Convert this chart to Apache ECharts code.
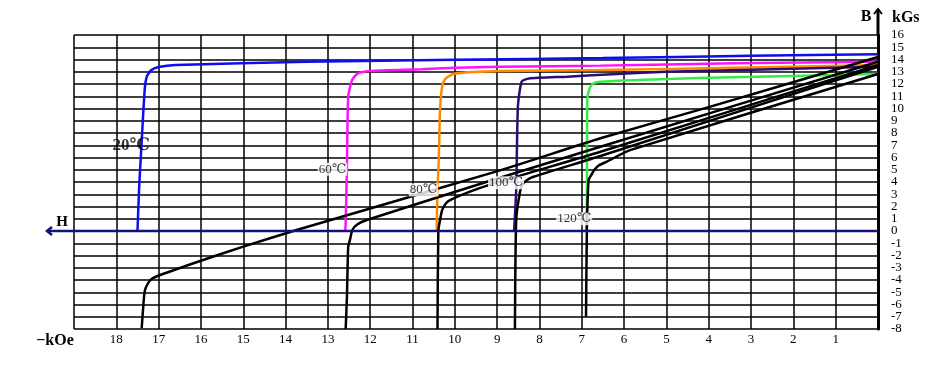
<!DOCTYPE html>
<html lang="zh">
<head>
<meta charset="UTF-8" />
<title>退磁曲线</title>
<script src="https://cdn.jsdelivr.net/npm/echarts@6/dist/echarts.min.js"></script>
</head>
<body style="margin:0;background:#fff">
<div id="main" style="width:950px;height:378px"></div>
<script>
// 彩色曲线: 内禀 J 曲线, [H(kOe), B(kGs)]
var j20 = [[0, 14.42], [3, 14.3], [6.5, 14.12], [10, 13.98], [13.5, 13.82], [16.6, 13.55], [17.0, 13.38], [17.18, 13.12], [17.28, 12.6], [17.33, 11.5], [17.42, 6.1], [17.46, 3.6], [17.5, 0]];
var j60 = [[0, 13.82], [3.4, 13.69], [6.56, 13.5], [8.93, 13.41], [10, 13.33], [10.8, 13.2], [12.0, 13.06], [12.3, 12.85], [12.43, 12.3], [12.52, 10.96], [12.55, 5.25], [12.58, 0.63], [12.59, 0]];
var j80 = [[0, 13.55], [3.42, 13.33], [6.56, 13.14], [8.93, 13.06], [10.0, 12.85], [10.2, 12.5], [10.29, 12.0], [10.35, 9.88], [10.38, 5.8], [10.41, 3.35], [10.43, 0]];
var j100 = [[0, 13.41], [2.5, 13.2], [5, 13.0], [6.17, 12.82], [7.35, 12.6], [8.25, 12.45], [8.42, 12.2], [8.51, 10.15], [8.55, 3.35], [8.6, 0]];
var j120 = [[0, 12.82], [3.41, 12.55], [5, 12.41], [6.56, 12.19], [6.74, 12.02], [6.82, 11.6], [6.87, 10.69], [6.88, 2.53], [6.9, 0]];

// 黑色曲线: B 曲线
var b20 = [[0, 14.2], [3.96, 10.15], [6.56, 7.57], [8.93, 4.95], [13.74, 0.08], [15.0, -1.28], [16.02, -2.45], [16.96, -3.59], [17.18, -3.95], [17.3, -4.6], [17.34, -5.2], [17.4, -7.94]];
var b60 = [[0, 13.82], [6.56, 6.88], [9.24, 4.02], [12.08, 0.9], [12.3, 0.55], [12.42, 0.1], [12.48, -0.73], [12.52, -1.28], [12.55, -5.36], [12.58, -8]];
var b80 = [[0, 13.55], [6.56, 6.47], [9.24, 3.7], [10.03, 2.67], [10.2, 2.3], [10.3, 1.7], [10.35, 0.9], [10.39, 0], [10.41, -8]];
var b100 = [[0, 13.41], [6.56, 6.12], [8.14, 4.43], [8.3, 4.15], [8.4, 3.8], [8.46, 3.2], [8.55, 0.9], [8.58, -8]];
var b120 = [[0, 12.82], [5.86, 6.6], [6.41, 5.66], [6.6, 5.35], [6.7, 5.0], [6.78, 4.55], [6.84, 4.16], [6.88, 0], [6.9, -7]];

var tempNames = ['20℃', '60℃', '80℃', '100℃', '120℃'];
var labelAnchors = [[17.65, 6.95], [12.89, 5.04], [10.74, 3.35], [8.79, 3.94], [7.18, 1.0]];
var bMin = -8, bMax = 16;

var serif = "'Liberation Serif', 'DejaVu Serif', 'Noto Sans CJK SC', serif";
var myChart = echarts.init(document.getElementById('main'));

function curve(name, data, color) {
  return {
    name: name,
    type: 'line',
    data: data,
    showSymbol: false,
    smooth: 0.2,
    lineStyle: { color: color, width: 2.5 },
    z: 3
  };
}

// 温度标签, 20℃ 加粗放大
var labelData = labelAnchors.map(function (p, i) {
  var item = { value: [p[0], p[1], tempNames[i]] };
  if (i === 0) item.label = { fontSize: 17, fontWeight: 'bold', backgroundColor: 'transparent' };
  return item;
});

var yLabelStyle = { margin: 13, color: '#000', fontSize: 13, fontFamily: serif };

var option = {
  animation: false,
  grid: { left: 74, right: 72, top: 35, bottom: 49 },
  xAxis: {
    type: 'value', min: 0, max: 19, interval: 1, inverse: true,
    position: 'bottom',
    axisLine: { show: false },
    axisTick: { show: false },
    splitLine: { show: true, lineStyle: { color: '#000', width: 1.5 } },
    axisLabel: {
      margin: 4, color: '#000', fontSize: 13, fontFamily: serif,
      formatter: function (v) { return (v === 0 || v === 19) ? '' : v; }
    }
  },
  yAxis: [
    {
      // 主轴: 中间的刻度标签
      type: 'value', min: bMin, max: bMax, interval: 1,
      position: 'right',
      axisLine: { show: true, lineStyle: { color: '#000', width: 3 } },
      axisTick: { show: false },
      splitLine: { show: true, lineStyle: { color: '#000', width: 1.5 } },
      axisLabel: Object.assign({ showMinLabel: false, showMaxLabel: false }, yLabelStyle)
    },
    {
      // 辅助轴: 只显示两端的 16 与 -8
      type: 'value', min: bMin, max: bMax, interval: 1,
      position: 'right',
      axisLine: { show: false },
      axisTick: { show: false },
      splitLine: { show: false },
      axisLabel: Object.assign({
        showMinLabel: true, showMaxLabel: true,
        formatter: function (v) { return (v === bMin || v === bMax) ? v : ''; }
      }, yLabelStyle)
    }
  ],
  series: [
    curve('20℃ J', j20, '#0d0df2'),
    curve('60℃ J', j60, '#ff10ff'),
    curve('80℃ J', j80, '#ff8a00'),
    curve('100℃ J', j100, '#2c0c72'),
    curve('120℃ J', j120, '#35ec45'),
    curve('20℃ B', b20, '#000'),
    curve('60℃ B', b60, '#000'),
    curve('80℃ B', b80, '#000'),
    curve('100℃ B', b100, '#000'),
    curve('120℃ B', b120, '#000'),
    {
      name: 'labels',
      type: 'scatter',
      symbolSize: 0,
      data: labelData,
      z: 5,
      label: {
        show: true,
        position: 'inside',
        color: '#000',
        fontFamily: serif,
        fontSize: 13,
        backgroundColor: '#fff',
        padding: [0, 1],
        formatter: function (p) { return p.value[2]; }
      }
    }
  ]
};

myChart.setOption(option);

// H 轴、B 轴箭头与名称
var o = myChart.convertToPixel({ xAxisIndex: 0, yAxisIndex: 0 }, [0, 0]);
var topPt = myChart.convertToPixel({ xAxisIndex: 0, yAxisIndex: 0 }, [0, bMax]);
var leftPt = myChart.convertToPixel({ xAxisIndex: 0, yAxisIndex: 0 }, [19, 0]);
var tipX = leftPt[0] - 27, tipY = 9;
var bold = { fontFamily: serif, fontWeight: 'bold', fill: '#000' };

myChart.setOption({
  graphic: [
    { type: 'line', z: 4, shape: { x1: o[0], y1: o[1], x2: tipX, y2: o[1] }, style: { stroke: '#12127a', lineWidth: 2.5 } },
    { type: 'polyline', z: 4, shape: { points: [[tipX + 5, o[1] - 4], [tipX, o[1]], [tipX + 5, o[1] + 4]] }, style: { stroke: '#12127a', lineWidth: 2.5, fill: null } },
    { type: 'line', shape: { x1: topPt[0], y1: topPt[1], x2: topPt[0], y2: tipY }, style: { stroke: '#000', lineWidth: 3 } },
    { type: 'polyline', shape: { points: [[topPt[0] - 4, tipY + 5], [topPt[0], tipY], [topPt[0] + 4, tipY + 5]] }, style: { stroke: '#000', lineWidth: 2, fill: null } },
    { type: 'text', x: 866, y: 17, style: Object.assign({ text: 'B', fontSize: 16, align: 'center', verticalAlign: 'middle' }, bold) },
    { type: 'text', x: 892, y: 18, style: Object.assign({ text: 'kGs', fontSize: 16, align: 'left', verticalAlign: 'middle' }, bold) },
    { type: 'text', x: 62, y: 222, style: Object.assign({ text: 'H', fontSize: 15, align: 'center', verticalAlign: 'middle' }, bold) },
    { type: 'text', x: 55, y: 341, style: Object.assign({ text: '−kOe', fontSize: 16, align: 'center', verticalAlign: 'middle' }, bold) }
  ]
});

window.addEventListener('resize', myChart.resize);
</script>
</body>
</html>
